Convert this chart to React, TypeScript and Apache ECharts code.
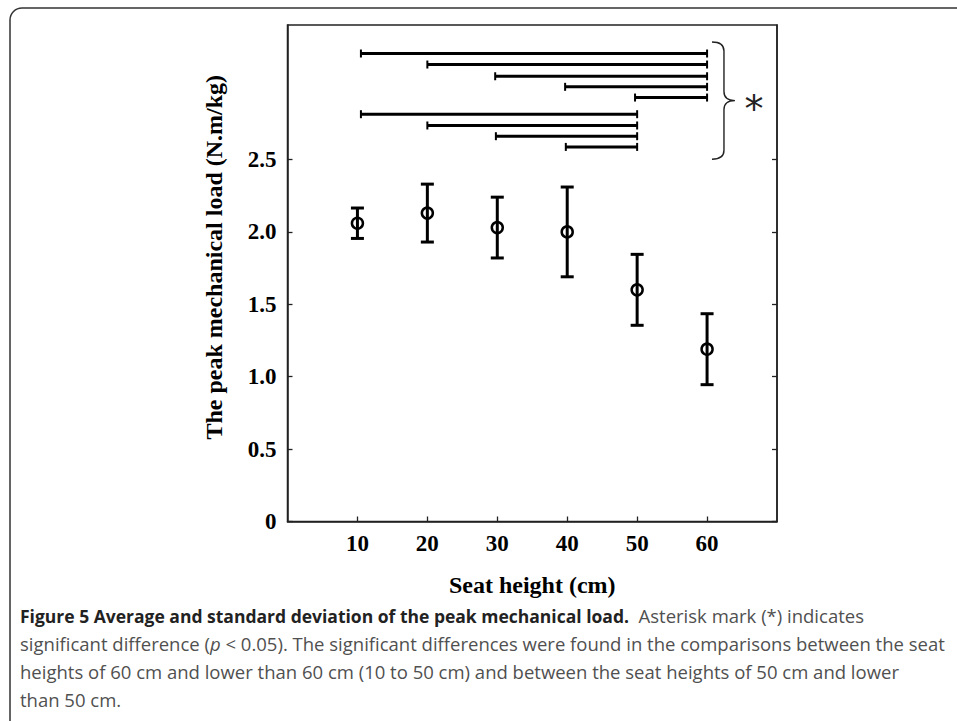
import React, { useEffect, useRef } from "react";
import * as echarts from "echarts";

// ---- data ----
const seatHeights = [10, 20, 30, 40, 50, 60];
const meanLoad = [2.06, 2.13, 2.03, 2.0, 1.6, 1.19];
const sdLoad = [0.105, 0.2, 0.21, 0.31, 0.245, 0.245];
const yTickValues = [0, 0.5, 1.0, 1.5, 2.0, 2.5];
// significance comparisons (bar from, bar to, bar level)
const sigFrom = [10.5, 20, 29.7, 39.7, 49.7, 10.5, 20, 29.8, 39.8];
const sigTo = [60, 60, 60, 60, 60, 50, 50, 50, 50];
const sigLevel = [3.232, 3.156, 3.075, 3.002, 2.928, 2.813, 2.735, 2.661, 2.587];
const captionLines = [
  "{b|Figure 5 Average and standard deviation of the peak mechanical load.}  {r|Asterisk mark (*) indicates}",
  "significant difference ({i|p} < 0.05). The significant differences were found in the comparisons between the seat",
  "heights of 60 cm and lower than 60 cm (10 to 50 cm) and between the seat heights of 50 cm and lower",
  "than 50 cm.",
];

const SERIF = "'Liberation Serif', 'Times New Roman', serif";
const SANS = "'Open Sans', 'Noto Sans', sans-serif";
const CAP_SIZE = 18.5;
const CAP_COLOR = "#505050";

export default function App() {
  const ref = useRef<HTMLDivElement>(null);
  useEffect(() => {
    if (!ref.current) return;
    const chart = echarts.init(ref.current, undefined, { renderer: "svg" });

    const errData = seatHeights.map((x, i) => [x, meanLoad[i] - sdLoad[i], meanLoad[i] + sdLoad[i]]);
    const sigData = sigFrom.map((f, i) => [f, sigTo[i], sigLevel[i]]);
    const braceTop = Math.max(...sigLevel) + 0.08;
    const braceBottom = Math.min(...sigLevel) - 0.085;
    const braceData = [[60.7, braceBottom, braceTop]];

    const option: any = {
      animation: false,
      backgroundColor: "#fff",
      grid: { left: 287.5, right: 180, top: 25, bottom: 199.5, show: true, borderColor: "#222", borderWidth: 1.5 },
      xAxis: [
        {
          type: "value",
          min: 0,
          max: 70,
          position: "bottom",
          axisLine: { show: true, onZero: false, lineStyle: { color: "#222", width: 1.5 } },
          axisTick: { show: true, inside: true, length: 5, customValues: seatHeights, lineStyle: { color: "#222", width: 1.3 } },
          axisLabel: {
            customValues: seatHeights,
            fontFamily: SERIF,
            fontWeight: "bold",
            fontSize: 23,
            color: "#000",
            margin: 10,
          },
          splitLine: { show: false },
          name: "Seat height (cm)",
          nameLocation: "middle",
          nameGap: 51,
          nameTextStyle: { fontFamily: SERIF, fontWeight: "bold", fontSize: 24, color: "#000" },
        },
      ],
      yAxis: [
        {
          type: "value",
          min: 0,
          max: 3.429,
          position: "left",
          axisLine: { show: true, onZero: false, lineStyle: { color: "#222", width: 1.5 } },
          axisTick: { show: true, inside: true, length: 5, customValues: yTickValues, lineStyle: { color: "#222", width: 1.3 } },
          axisLabel: {
            customValues: yTickValues,
            formatter: (v: number) => (v === 0 ? "0" : v.toFixed(1)),
            fontFamily: SERIF,
            fontWeight: "bold",
            fontSize: 23,
            color: "#000",
            margin: 11,
          },
          splitLine: { show: false },
          name: "The peak mechanical load (N.m/kg)",
          nameLocation: "middle",
          nameGap: 62,
          nameTextStyle: { fontFamily: SERIF, fontWeight: "bold", fontSize: 24, color: "#000", padding: [0, 0, 0, 32] },
        },
        {
          type: "value",
          min: 0,
          max: 3.429,
          position: "right",
          axisLine: { show: true, onZero: false, lineStyle: { color: "#222", width: 1.5 } },
          axisTick: { show: true, inside: true, length: 5, customValues: yTickValues, lineStyle: { color: "#222", width: 1.3 } },
          axisLabel: { show: false },
          splitLine: { show: false },
        },
      ],
      series: [
        {
          type: "custom",
          name: "sd",
          data: errData,
          encode: { x: 0, y: [1, 2] },
          renderItem: (_p: any, api: any) => {
            const x = api.value(0);
            const lo = api.coord([x, api.value(1)]);
            const hi = api.coord([x, api.value(2)]);
            const w = 6.5;
            const st = { stroke: "#000", lineWidth: 3 };
            return {
              type: "group",
              children: [
                { type: "line", shape: { x1: hi[0], y1: hi[1], x2: lo[0], y2: lo[1] }, style: st },
                { type: "line", shape: { x1: hi[0] - w, y1: hi[1], x2: hi[0] + w, y2: hi[1] }, style: st },
                { type: "line", shape: { x1: lo[0] - w, y1: lo[1], x2: lo[0] + w, y2: lo[1] }, style: st },
              ],
            };
          },
          z: 2,
        },
        {
          type: "scatter",
          name: "mean",
          data: seatHeights.map((x, i) => [x, meanLoad[i]]),
          symbol: "circle",
          symbolSize: 11,
          itemStyle: { color: "rgba(0,0,0,0)", borderColor: "#000", borderWidth: 2.5, opacity: 1 },
          z: 3,
        },
        {
          type: "custom",
          name: "significance",
          data: sigData,
          encode: { x: [0, 1], y: 2 },
          renderItem: (_p: any, api: any) => {
            const a = api.coord([api.value(0), api.value(2)]);
            const b = api.coord([api.value(1), api.value(2)]);
            const h = 4;
            return {
              type: "group",
              children: [
                { type: "line", shape: { x1: a[0], y1: a[1], x2: b[0], y2: b[1] }, style: { stroke: "#000", lineWidth: 3 } },
                { type: "line", shape: { x1: a[0], y1: a[1] - h, x2: a[0], y2: a[1] + h }, style: { stroke: "#000", lineWidth: 2 } },
                { type: "line", shape: { x1: b[0], y1: b[1] - h, x2: b[0], y2: b[1] + h }, style: { stroke: "#000", lineWidth: 2 } },
              ],
            };
          },
        },
        {
          type: "custom",
          name: "brace",
          data: braceData,
          encode: { x: 0, y: [1, 2] },
          clip: false,
          renderItem: (_p: any, api: any) => {
            const x = api.value(0);
            const top = api.coord([x, api.value(2)]);
            const bot = api.coord([x, api.value(1)]);
            const x0 = top[0];
            const xm = x0 + 12;
            const x1 = x0 + 23;
            const yT = top[1];
            const yB = bot[1];
            const yM = (yT + yB) / 2;
            const r = 9;
            const d =
              `M${x0},${yT} Q${xm},${yT} ${xm},${yT + r} L${xm},${yM - r} Q${xm},${yM} ${x1},${yM} ` +
              `Q${xm},${yM} ${xm},${yM + r} L${xm},${yB - r} Q${xm},${yB} ${x0},${yB}`;
            return {
              type: "group",
              children: [
                { type: "path", shape: { pathData: d }, style: { fill: "none", stroke: "#222", lineWidth: 1.4 } },
                {
                  type: "text",
                  x: x1 + 19,
                  y: yM + 8,
                  style: {
                    text: "*",
                    fontFamily: "'DejaVu Sans', sans-serif",
                    fontSize: 38,
                    fontWeight: "normal",
                    fill: "#222",
                    align: "center",
                    verticalAlign: "middle",
                  },
                },
              ],
            };
          },
        },
      ],
      graphic: [
        {
          type: "rect",
          shape: { x: 10, y: 8, width: 990, height: 740, r: 12 },
          style: { fill: "none", stroke: "#333", lineWidth: 1.5 },
          silent: true,
        },
        ...captionLines.map((t, i) => ({
          type: "text",
          left: 20,
          top: 606 + i * 28,
          style: {
            text: t,
            fontFamily: SANS,
            fontSize: CAP_SIZE,
            fill: CAP_COLOR,
            rich: {
              b: { fontFamily: SANS, fontSize: 17.5, fontWeight: "bold", fill: "#222" },
              r: { fontFamily: SANS, fontSize: CAP_SIZE, fill: CAP_COLOR },
              i: { fontFamily: SANS, fontSize: CAP_SIZE, fontStyle: "italic", fill: CAP_COLOR },
            },
          },
        })),
      ],
    };
    chart.setOption(option);
    return () => chart.dispose();
  }, []);
  return <div ref={ref} style={{ position: "absolute", left: 0, top: 0, width: 957, height: 721 }} />;
}
